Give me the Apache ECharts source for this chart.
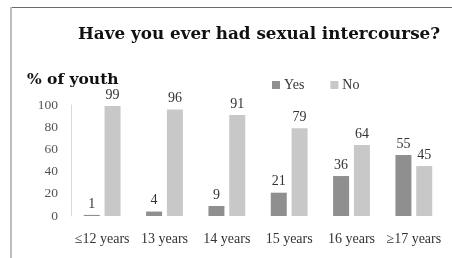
<!DOCTYPE html>
<html>
<head>
<meta charset="utf-8">
<script src="https://cdn.jsdelivr.net/npm/echarts@6/dist/echarts.min.js"></script>
<style>html,body{margin:0;padding:0;background:#fff;}#c{width:452px;height:258px;}</style>
</head>
<body>
<div id="c"></div>
<script>
var categories = ['≤12 years', '13 years', '14 years', '15 years', '16 years', '≥17 years'];
var yesValues = [1, 4, 9, 21, 36, 55];
var noValues = [99, 96, 91, 79, 64, 45];
var yTicks = [0, 20, 40, 60, 80, 100];
var seriesNames = ['Yes', 'No'];

var FONT = 'Liberation Serif';
var chart = echarts.init(document.getElementById('c'), null, {renderer: 'canvas'});
chart.setOption({
  animation: false,
  backgroundColor: '#fff',
  title: {
    text: 'Have you ever had sexual intercourse?',
    left: 73, top: 21,
    textStyle: {fontFamily: 'DejaVu Serif', fontWeight: 'bold', fontSize: 16.8, color: '#111'}
  },
  legend: {
    data: seriesNames,
    left: 267, top: 73,
    itemWidth: 8, itemHeight: 8, itemGap: 26,
    icon: 'rect',
    textStyle: {fontFamily: FONT, fontSize: 14, color: '#333', padding: [0, 0, 0, -1]}
  },
  graphic: [
    {type: 'line', shape: {x1: 11, y1: 7.5, x2: 452, y2: 7.5}, style: {stroke: '#6b6b6b', lineWidth: 1}},
    {type: 'line', shape: {x1: 11, y1: 7, x2: 11, y2: 258}, style: {stroke: '#bdbdbd', lineWidth: 2}},
    {type: 'text', left: 27, top: 72, style: {text: '% of youth', font: 'bold 15.5px "DejaVu Serif"', fill: '#111'}}
  ],
  grid: {left: 71, right: 7, top: 105, bottom: 42, containLabel: false},
  xAxis: {
    type: 'category', data: categories,
    axisLine: {show: false}, axisTick: {show: false},
    axisLabel: {fontFamily: FONT, fontSize: 14, color: '#333', margin: 16, interval: 0}
  },
  yAxis: {
    type: 'value', min: 0, max: 100, interval: 20,
    splitLine: {show: false},
    axisLine: {show: true, lineStyle: {color: '#d9d9d9', width: 1}},
    axisTick: {show: false},
    axisLabel: {fontFamily: FONT, fontSize: 13.5, color: '#555', margin: 13,
      formatter: function (v) { return yTicks.indexOf(v) >= 0 ? String(v) : ''; }}
  },
  series: [
    {name: seriesNames[0], type: 'bar', data: yesValues, barWidth: 16, barGap: '30%',
     itemStyle: {color: '#8f8f8f'},
     label: {show: true, position: 'top', distance: 4, fontFamily: FONT, fontSize: 14, color: '#333'}},
    {name: seriesNames[1], type: 'bar', data: noValues, barWidth: 16,
     itemStyle: {color: '#c8c8c8'},
     label: {show: true, position: 'top', distance: 4, fontFamily: FONT, fontSize: 14, color: '#333'}}
  ]
});
</script>
</body>
</html>
